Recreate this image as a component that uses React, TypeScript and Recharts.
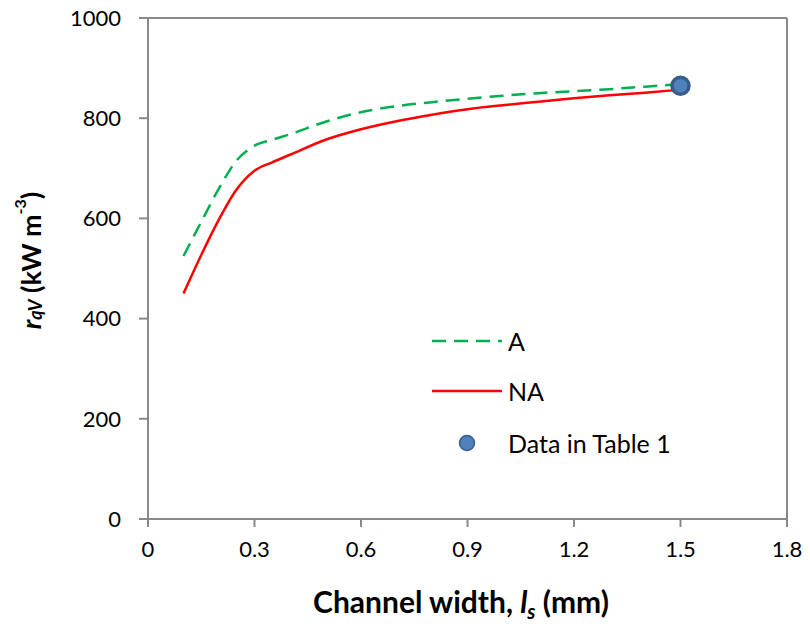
import React from 'react';
import { ComposedChart, Line, Scatter, XAxis, YAxis, ReferenceLine } from 'recharts';

// Channel width (mm)
const widths = [0.1, 0.15, 0.2, 0.25, 0.3, 0.35, 0.4, 0.5, 0.6, 0.7, 0.8, 0.9, 1.0, 1.1, 1.2, 1.3, 1.4, 1.5];
// r_qV (kW m^-3) for the two cases
const seriesA = [525, 593, 660, 716, 745, 757, 768, 793, 812, 824, 832, 839, 845, 850, 854, 858, 863, 868];
const seriesNA = [450, 527, 598, 658, 695, 712, 727, 757, 778, 794, 807, 818, 826, 833, 840, 846, 851, 857];
// Data in Table 1
const tableX = [1.5];
const tableY = [865];

const xTicks = [0, 0.3, 0.6, 0.9, 1.2, 1.5, 1.8];
const yTicks = [0, 200, 400, 600, 800, 1000];

const lineData = widths.map((w, i) => ({ w, A: seriesA[i], NA: seriesNA[i] }));
const tableData = tableX.map((x, i) => ({ w: x, v: tableY[i] }));

const FONT = 'Lato, "Open Sans", sans-serif';
const AXIS = '#898989';

// static legend drawn over the plot, like the original
const LegendBox = () => (
  <div style={{ position: 'absolute', left: 432, top: 316, fontFamily: FONT, fontSize: 25, color: '#000' }}>
    <div style={{ display: 'flex', alignItems: 'center', height: 50 }}>
      <svg width={76} height={10}>
        <line x1={0} y1={5} x2={70} y2={5} stroke="#00b050" strokeWidth={2.5} strokeDasharray="14 8" />
      </svg>
      <span>A</span>
    </div>
    <div style={{ display: 'flex', alignItems: 'center', height: 50 }}>
      <svg width={76} height={10}>
        <line x1={0} y1={5} x2={70} y2={5} stroke="#ff0000" strokeWidth={2.5} />
      </svg>
      <span>NA</span>
    </div>
    <div style={{ display: 'flex', alignItems: 'center', height: 54 }}>
      <svg width={76} height={20}>
        <circle cx={35} cy={10} r={7.5} fill="#4f81bd" stroke="#385d8a" strokeWidth={1.5} />
      </svg>
      <span>Data in Table 1</span>
    </div>
  </div>
);

const YTitle = ({ viewBox }: any) => {
  const cx = 30;
  const cy = viewBox.y + viewBox.height / 2 - 8;
  return (
    <text x={cx} y={cy} transform={`rotate(-90 ${cx} ${cy})`} textAnchor="middle" dominantBaseline="central"
      fontFamily={FONT} fontWeight="bold" fontSize={27} fill="#000">
      <tspan fontStyle="italic">r</tspan>
      <tspan fontStyle="italic" fontSize={18} dy={5}>qV</tspan>
      <tspan dy={-5}> (kW m</tspan>
      <tspan fontSize={16} dy={-11}>-3</tspan>
      <tspan dy={11}>)</tspan>
    </text>
  );
};

const XTitle = () => (
  <text x={461} y={613} textAnchor="middle" fontFamily={FONT} fontWeight="bold" fontSize={30} fill="#000">
    Channel width, <tspan fontStyle="italic">l</tspan>
    <tspan fontStyle="italic" fontSize={20} dy={6}>s</tspan>
    <tspan dy={-6}> (mm)</tspan>
  </text>
);

export default function App() {
  return (
    <div style={{ position: 'relative', width: 810, height: 627, background: '#fff' }}>
      <style>{'body{margin:0}'}</style>
      <ComposedChart width={810} height={627} data={lineData} margin={{ top: 18, right: 23, bottom: 0, left: 0 }}>
        <XAxis dataKey="w" type="number" domain={[0, 1.8]} ticks={xTicks} height={108}
          stroke={AXIS} strokeWidth={2} tickSize={8} tickMargin={14}
          tick={{ fill: '#000', fontSize: 22, fontFamily: FONT }}
          label={<XTitle />} />
        <YAxis type="number" domain={[0, 1000]} ticks={yTicks} width={148}
          stroke={AXIS} strokeWidth={2} tickSize={9} tickMargin={18}
          tick={{ fill: '#000', fontSize: 22, fontFamily: FONT }}
          label={<YTitle />} />
        <ReferenceLine y={1000} stroke={AXIS} strokeWidth={2} />
        <ReferenceLine x={1.8} stroke={AXIS} strokeWidth={2} />
        <Line dataKey="A" type="monotone" stroke="#00b050" strokeWidth={2.5} strokeDasharray="14 8" dot={false} isAnimationActive={false} />
        <Line dataKey="NA" type="monotone" stroke="#ff0000" strokeWidth={2.5} dot={false} isAnimationActive={false} />
        <Scatter data={tableData} dataKey="v" isAnimationActive={false}
          shape={(p: any) => <circle cx={p.cx} cy={p.cy} r={8.5} fill="#4f81bd" stroke="#385d8a" strokeWidth={3.5} />} />
      </ComposedChart>
      <LegendBox />
    </div>
  );
}
